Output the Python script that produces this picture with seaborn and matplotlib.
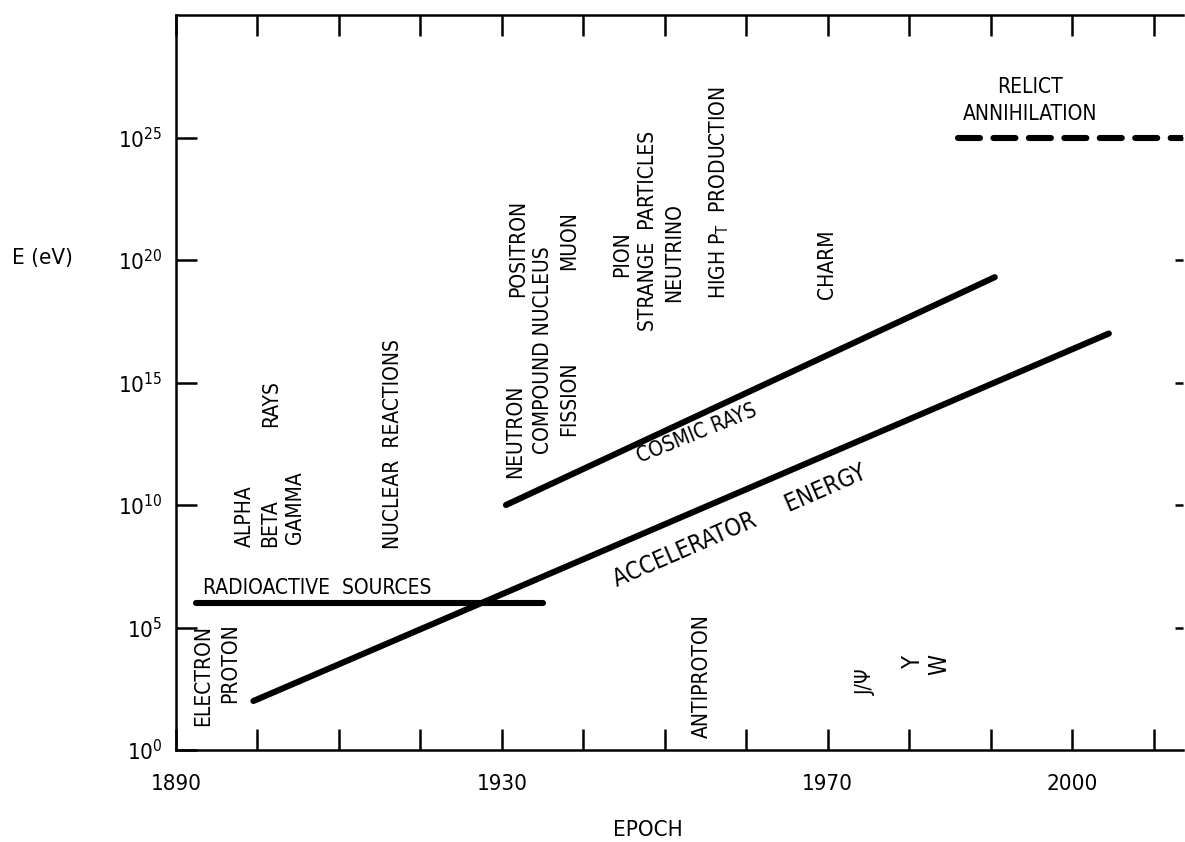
import math
import matplotlib
matplotlib.use("Agg")
import matplotlib.pyplot as plt
import matplotlib.ticker as mticker
import seaborn as sns

# Data (years, energies in eV)
radio_years = [1892.5, 1935.0]
radio_energy = [1e6, 1e6]
accel_years = [1899.5, 2004.5]
accel_energy = [1e2, 1e17]
cosmic_years = [1930.5, 1990.5]
cosmic_energy = [1e10, 10 ** 19.3]
relict_years = [1986.0, 2014.0]
relict_energy = [1e25, 1e25]

# Discoveries (vertical labels): text, year, log10(E) of the lower end
disc_text = ["ELECTRON", "PROTON", "ALPHA", "BETA", "GAMMA", "RAYS",
             "NUCLEAR  REACTIONS", "NEUTRON", "COMPOUND NUCLEUS", "FISSION",
             "POSITRON", "MUON", "PION", "STRANGE  PARTICLES", "NEUTRINO",
             r"HIGH $\mathregular{P_T}$  PRODUCTION", "CHARM", "ANTIPROTON",
             "J/Ψ"]
disc_year = [1893.3, 1896.6, 1898.5, 1901.5, 1904.6, 1901.7,
             1916.6, 1931.6, 1935.0, 1938.3,
             1932.0, 1938.3, 1944.7, 1947.9, 1951.2,
             1956.7, 1969.9, 1954.5,
             1974.7]
disc_loge = [1.0, 1.9, 8.3, 8.3, 8.4, 13.2,
             8.2, 11.1, 12.1, 12.8,
             18.5, 19.6, 19.3, 17.1, 18.3,
             18.4, 18.4, 0.5,
             2.25]

year_ticks = list(range(1890, 2020, 10))
year_labels = ["1890", "1930", "1970", "2000"]
energy_ticks = [10.0 ** k for k in range(0, 30, 5)]

sns.set_style("ticks")
plt.rcParams["font.family"] = ["DejaVu Sans"]
plt.rcParams["font.stretch"] = "condensed"
for key in ["text.color", "axes.edgecolor", "axes.labelcolor",
            "xtick.color", "ytick.color"]:
    plt.rcParams[key] = "black"

fig = plt.figure(figsize=(11.85, 8.42), dpi=100)
ax = fig.add_axes([176 / 1185, 92 / 842, 1007 / 1185, 735 / 842])

lw = 4.4
sns.lineplot(x=radio_years, y=radio_energy, ax=ax, color="black", lw=lw)
sns.lineplot(x=accel_years, y=accel_energy, ax=ax, color="black", lw=lw)
sns.lineplot(x=cosmic_years, y=cosmic_energy, ax=ax, color="black", lw=lw)
ax.plot(relict_years, relict_energy, color="black", lw=lw, dashes=(3.6, 2.2),
        dash_capstyle="round")

ax.set_yscale("log")
ax.set_xlim(1890, 2013.6)
ax.set_ylim(1, 1e30)

ax.set_xticks(year_ticks)
ax.set_xticklabels([str(y) if str(y) in year_labels else "" for y in year_ticks])
ax.set_yticks(energy_ticks)
ax.yaxis.set_major_formatter(mticker.FuncFormatter(
    lambda v, p: r"$\mathregular{10^{%d}}$" % round(math.log10(v))))
ax.yaxis.set_minor_locator(mticker.NullLocator())

ax.tick_params(axis="both", direction="in", length=15, width=1.8,
               labelsize=16, top=True, bottom=True, left=True, right=False)
ax.tick_params(axis="x", pad=17)
ax.tick_params(axis="y", pad=10)
for s in ["left", "bottom", "top"]:
    ax.spines[s].set_linewidth(1.8)
ax.spines["right"].set_visible(False)

# short ticks on the right side without a spine
ax2 = ax.twinx()
ax2.set_yscale("log")
ax2.set_ylim(1, 1e30)
ax2.set_yticks(energy_ticks[1:])
ax2.yaxis.set_minor_locator(mticker.NullLocator())
ax2.tick_params(axis="y", direction="in", length=6, width=1.8, labelright=False)
for s in ax2.spines.values():
    s.set_visible(False)

fs = 15
for t, yr, le in zip(disc_text, disc_year, disc_loge):
    ax.text(yr, 10 ** le, t, rotation=90, ha="center", va="bottom", fontsize=fs)
ax.text(1980.4, 10 ** 3.6, "Υ", rotation=90, ha="center", va="center", fontsize=fs + 2)
ax.text(1983.7, 10 ** 3.5, "W", rotation=90, ha="center", va="center", fontsize=fs + 2)

ax.text(1893.3, 10 ** 6.63, "RADIOACTIVE  SOURCES", ha="left", va="center", fontsize=fs)
ax.text(1953.9, 10 ** 12.9, "COSMIC RAYS", rotation=22, rotation_mode="anchor",
        ha="center", va="center", fontsize=fs)
ax.text(1959.2, 10 ** 9.15, "ACCELERATOR     ENERGY", rotation=23.5, rotation_mode="anchor",
        ha="center", va="center", fontsize=17)
ax.text(1994.8, 10 ** 26.5, "RELICT\nANNIHILATION", ha="center", va="center",
        multialignment="center", fontsize=fs, linespacing=1.45)

fig.text(42 / 1185, 1 - 258 / 842, "E (eV)", ha="center", va="center", fontsize=16)
fig.text(648 / 1185, 1 - 830 / 842, "EPOCH", ha="center", va="center", fontsize=16)

fig.savefig("out.png", dpi=100)
